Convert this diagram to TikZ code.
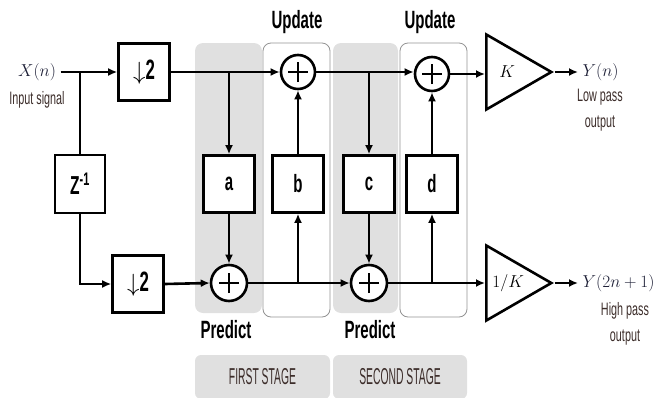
\documentclass[tikz,border=0pt]{standalone}
\usepackage{fontspec}
\usepackage{tikz}
\usetikzlibrary{shapes.geometric, arrows.meta, positioning, calc}
\newfontfamily\lblfont{Liberation Sans}[FakeStretch=0.6]
\newfontfamily\stagefont{Liberation Sans}[FakeStretch=0.45]
\definecolor{stagegray}{RGB}{224,224,224}
\definecolor{mathnavy}{RGB}{30,32,55}
\definecolor{txtbrown}{RGB}{60,45,42}

\begin{document}
\begin{tikzpicture}[x=1pt, y=-1pt, line width=2.6pt, >={Latex[length=9pt,width=8pt]}]
\useasboundingbox (0,0) rectangle (657,397);
\tikzset{
  block/.style={draw, fill=white, minimum width=51pt, minimum height=57pt, inner sep=0pt,
    font=\lblfont\bfseries\fontsize{25}{25}\selectfont},
  adder/.style={draw, circle, fill=white, minimum size=34pt, inner sep=0pt,
    path picture={\draw[line width=2.2pt] ($(path picture bounding box.center)+(-10pt,0)$) -- ++(20pt,0)
      ($(path picture bounding box.center)+(0,-10pt)$) -- ++(0,20pt);}},
  gain/.style={draw, fill=white, isosceles triangle, isosceles triangle stretches,
    minimum width=75pt, minimum height=65pt, inner sep=0pt, anchor=lower side,
    font=\fontsize{17}{17}\selectfont},
  region/.style={draw=gray!85, line width=0.8pt, rounded corners=8pt},
  title/.style={font=\lblfont\bfseries\fontsize{25}{25}\selectfont},
  sig/.style={text=mathnavy, font=\fontsize{17}{17}\selectfont},
  note/.style={text=txtbrown, align=center, font=\lblfont\fontsize{18}{26}\selectfont}
}

% Stage regions
\foreach \xa/\xb in {195/262, 333/398} {
    \fill[stagegray, rounded corners=8pt] (\xa,43) rectangle (\xb,313);
}
\foreach \xa/\xb in {263/330, 400/467} {
    \draw[region] (\xa,43) rectangle (\xb,317);
}
\node[fill=stagegray, rounded corners=6pt, minimum width=135pt, minimum height=44pt,
  text=txtbrown, font=\stagefont\fontsize{23}{23}\selectfont] (first) at (262.5,377) {FIRST STAGE};
\node[fill=stagegray, rounded corners=6pt, minimum width=134pt, minimum height=44pt,
  text=txtbrown, font=\stagefont\fontsize{23}{23}\selectfont] (second) at (400,377) {SECOND STAGE};

% Input
\node[sig] (xin) at (37,72) {$X(n)$};
\node[note] (xtxt) at (37,100) {Input signal};

% Blocks
\node[block, font=\lblfont\bfseries\fontsize{28}{28}\selectfont] (dsup) at (144,72) {$\downarrow$2};
\node[block, font=\lblfont\bfseries\fontsize{28}{28}\selectfont] (dslow) at (138,284) {$\downarrow$2};
\node[block, minimum width=50pt, minimum height=58pt, font=\lblfont\bfseries\fontsize{26}{26}\selectfont] (zinv) at (80,184) {Z\textsuperscript{-1}};
\node[block] (a) at (229,184) {a};
\node[block] (b) at (298,184) {b};
\node[block] (c) at (369,184) {c};
\node[block] (d) at (432,184) {d};

% Adders
\node[adder] (upd1) at (298,72) {};
\node[adder, minimum size=36pt] (pred1) at (229,283) {};
\node[adder] (upd2) at (432,74) {};
\node[adder, minimum size=36pt] (pred2) at (369,283) {};

% Titles
\node[title] (t1) at (297,22) {Update};
\node[title] (t2) at (430,22) {Update};
\node[title] (p1) at (226,330) {Predict};
\node[title] (p2) at (370,330) {Predict};

% Scaling
\node[gain] (klow) at (485,72) {$K$\hspace{12pt}};
\node[gain] (khigh) at (485,283) {$1/K$\hspace{6pt}};

% Outputs
\node[sig, anchor=west] (ylow) at (578,72) {$Y(n)$};
\node[note] (ylowtxt) at (600,110) {Low pass\\output};
\node[sig, anchor=west] (yhigh) at (578,283) {$Y(2n+1)$};
\node[note] (yhightxt) at (625,324) {High pass\\output};

% Connections
\coordinate (split) at (80,72);
\draw[->] (xin.east) -- (dsup.west);
\draw (split) -- (zinv.north);
\draw[->] (zinv.south) |- (dslow.west);
\draw[->] (dsup.east) -- (upd1.west);
\draw[->] (dslow.east) -- (pred1.west);
\draw[->] (a |- dsup.east) -- (a.north);
\draw[->] (a.south) -- (pred1.north);
\draw[->] (pred1.east) -- (pred2.west);
\draw[->] (b |- pred1.east) -- (b.south);
\draw[->] (b.north) -- (upd1.south);
\draw[->] (upd1.east) -- (upd2.west |- upd1.east);
\draw[->] (c |- upd1.east) -- (c.north);
\draw[->] (c.south) -- (pred2.north);
\draw[->] (pred2.east) -- (khigh.lower side |- pred2.east);
\draw[->] (d |- pred2.east) -- (d.south);
\draw[->] (d.north) -- (upd2.south);
\draw[->] (upd2.east) -- (klow.lower side |- upd2.east);
\draw[->] (klow.apex) -- (ylow.west);
\draw[->] (khigh.apex) -- (yhigh.west);
\end{tikzpicture}
\end{document}
